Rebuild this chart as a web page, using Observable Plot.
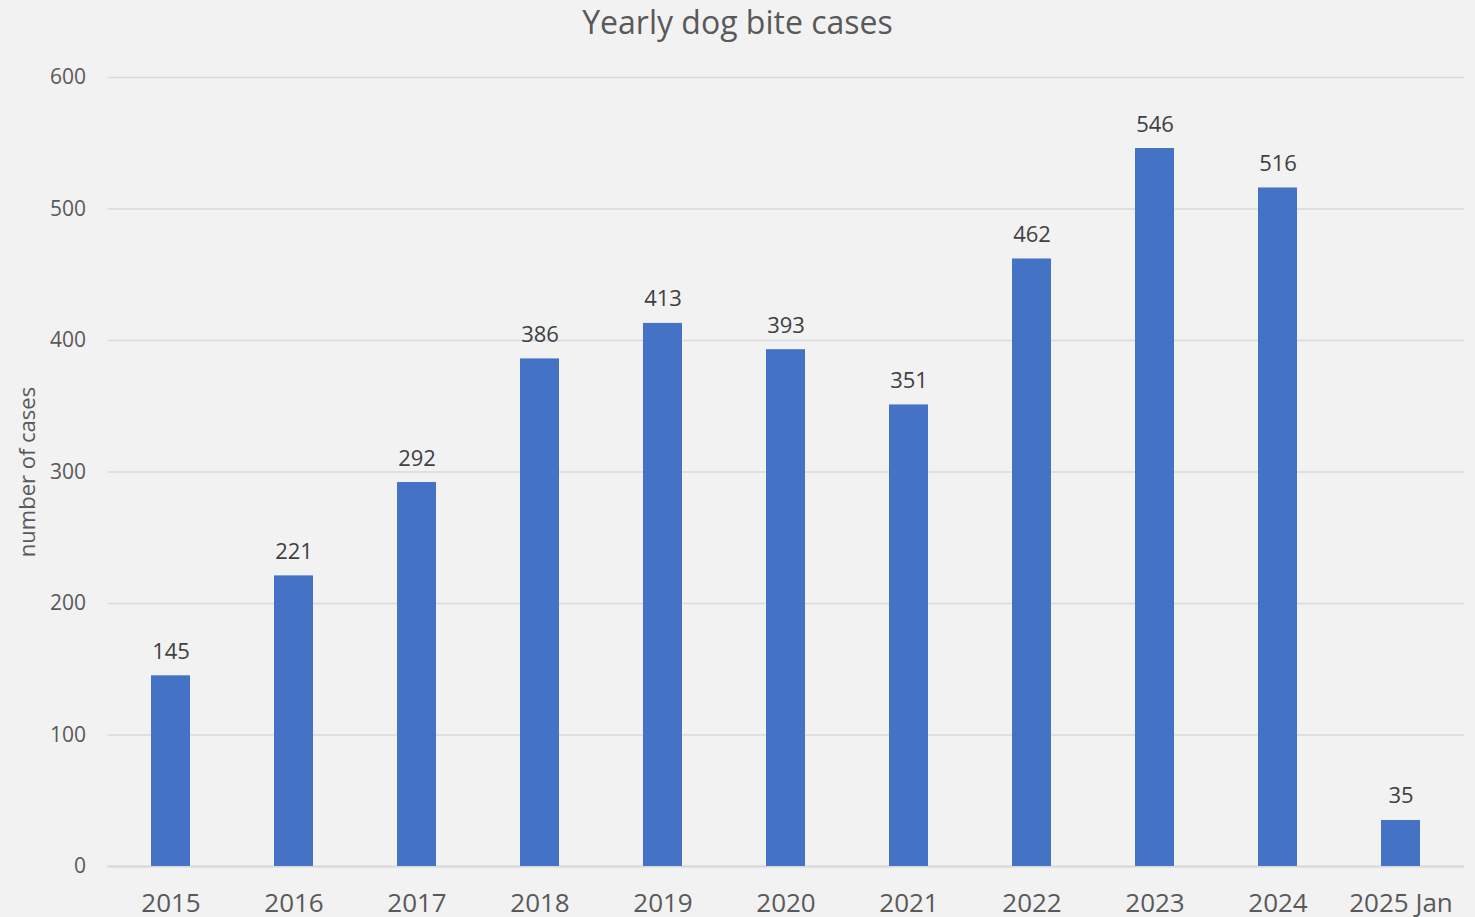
<!DOCTYPE html>
<html>
<head>
<meta charset="utf-8">
<script src="https://cdn.jsdelivr.net/npm/d3@7"></script>
<script src="https://cdn.jsdelivr.net/npm/@observablehq/plot@0.6"></script>
<style>
  html, body { margin: 0; padding: 0; background: #f2f2f2; }
  #wrap { position: relative; width: 1475px; height: 917px; overflow: hidden; }
  #title { position: absolute; left: 0; width: 1475px; top: 0px; text-align: center;
           font-family: "Open Sans", sans-serif; font-size: 32px; line-height: 44px; color: #595959; }
  svg { display: block; }
</style>
</head>
<body>
<div id="wrap">
  <div id="chart"></div>
  <div id="title">Yearly dog bite cases</div>
</div>
<script>
const categories = ["2015", "2016", "2017", "2018", "2019", "2020", "2021", "2022", "2023", "2024", "2025 Jan"];
const cases = [145, 221, 292, 386, 413, 393, 351, 462, 546, 516, 35];
const yTicks = [0, 100, 200, 300, 400, 500, 600];
const yLabel = "number of cases";

const data = categories.map((c, i) => ({category: c, value: cases[i]}));

const chart = Plot.plot({
  width: 1475,
  height: 917,
  marginTop: 77,
  marginBottom: 51,
  marginLeft: 107.5,
  marginRight: 11,
  style: {background: "#f2f2f2", fontFamily: "'Open Sans', sans-serif", color: "#595959"},
  x: {domain: categories, paddingInner: 0.686, paddingOuter: 0.343, axis: null},
  y: {domain: [0, 600], axis: null},
  marks: [
    Plot.gridY(yTicks, {stroke: "#d9d9d9", strokeOpacity: 1, strokeWidth: 1.5}),
    Plot.ruleY([0], {stroke: "#d9d9d9", strokeWidth: 2}),
    Plot.barY(data, {x: "category", y: "value", fill: "#4472c4"}),
    Plot.text(data, {x: "category", y: "value", text: d => String(d.value), lineAnchor: "bottom", dy: -17, fontSize: 22, fill: "#404040"}),
    Plot.axisY(yTicks, {tickSize: 0, tickPadding: 22, fontSize: 21, fill: "#595959", label: null}),
    Plot.axisX({tickSize: 0, tickPadding: 27, fontSize: 26, fill: "#595959", label: null}),
    Plot.text([yLabel], {frameAnchor: "left", textAnchor: "middle", rotate: -90, dx: -80, fontSize: 22, fill: "#595959", text: d => d})
  ]
});
document.getElementById("chart").appendChild(chart);
</script>
</body>
</html>
